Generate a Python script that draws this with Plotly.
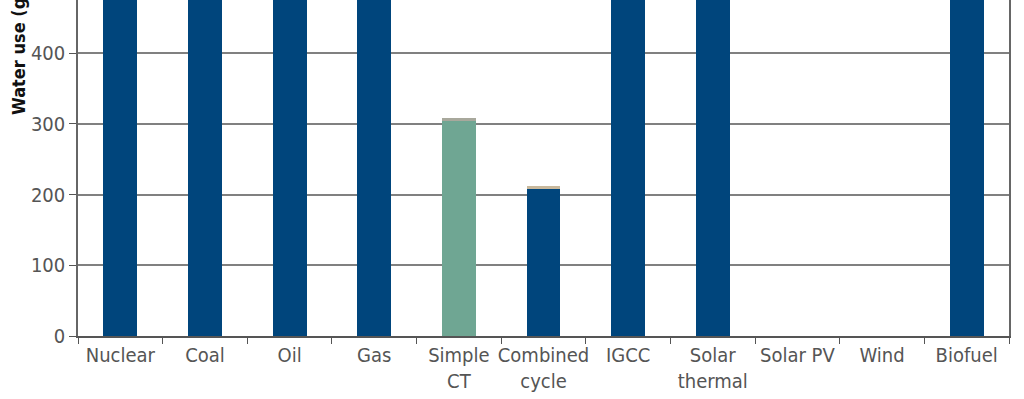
import plotly.graph_objects as go

categories = ["Nuclear", "Coal", "Oil", "Gas", "Simple<br>CT", "Combined<br>cycle",
              "IGCC", "Solar<br>thermal", "Solar PV", "Wind", "Biofuel"]
# main component (values above ~475 run off the top of the cropped chart)
main_values = [720, 520, 520, 520, 304, 208, 520, 800, 0, 0, 1000]
main_colors = ["#00457c", "#00457c", "#00457c", "#00457c", "#6fa693", "#00457c",
               "#00457c", "#00457c", "#00457c", "#00457c", "#00457c"]
# small upper component
cap_values = [0, 0, 0, 0, 3.5, 3.5, 0, 0, 0, 0, 0]
cap_colors = ["#a8a89c"] * 4 + ["#a8a89c", "#c8b89c"] + ["#a8a89c"] * 5

y_ticks = [0, 100, 200, 300, 400]
y_range = [0, 475]

font_family = "DejaVu Sans Condensed, Liberation Sans Narrow, Arial Narrow, sans-serif"

fig = go.Figure()
fig.add_trace(go.Bar(x=categories, y=main_values, marker=dict(color=main_colors, line=dict(width=0)),
                     width=0.4, showlegend=False, hoverinfo="skip"))
fig.add_trace(go.Bar(x=categories, y=cap_values, marker=dict(color=cap_colors, line=dict(width=0)),
                     width=0.4, showlegend=False, hoverinfo="skip"))

fig.update_layout(
    width=1024, height=399,
    margin=dict(l=78, r=15, t=0, b=63),
    barmode="stack",
    plot_bgcolor="white", paper_bgcolor="white",
    font=dict(family=font_family, size=20, color="#555555"),
    xaxis=dict(
        type="category", tickson="boundaries", ticks="outside", ticklen=6,
        tickcolor="#555555", showline=True, linecolor="#555555", linewidth=1.5,
        showgrid=False, tickfont=dict(size=20, color="#555555"),
        tickangle=0, automargin=False,
    ),
    yaxis=dict(
        range=y_range, tickvals=y_ticks, ticks="outside", ticklen=7,
        tickcolor="#555555", showline=True, linecolor="#666666", linewidth=1.5,
        mirror=True, showgrid=True, gridcolor="#808080", gridwidth=1.8,
        zeroline=False, tickfont=dict(size=20, color="#555555"), automargin=False,
    ),
    annotations=[dict(
        text="<b>Water use (gallons/MWh)</b>", textangle=-90,
        xref="paper", yref="paper", x=-0.0644, y=(336 - 117) / 336,
        xanchor="center", yanchor="bottom", showarrow=False,
        font=dict(family=font_family, size=18, color="#111111"),
    )],
)

fig.write_html("out.html", config={"displayModeBar": False},
               post_script="document.body.style.margin='0';")
